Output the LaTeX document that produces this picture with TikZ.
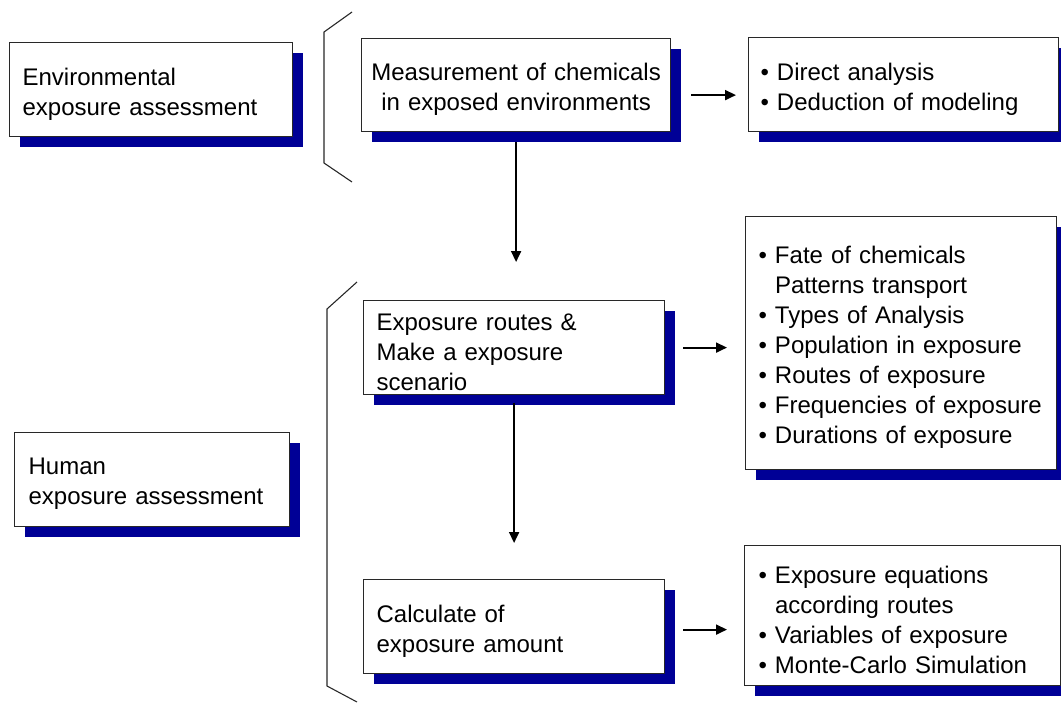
\documentclass[tikz,border=0pt]{standalone}
\usepackage{fontspec}
\setmainfont{Liberation Sans}
\usetikzlibrary{shadows,arrows.meta}
\definecolor{shadowblue}{RGB}{0,0,150}
\definecolor{edge}{RGB}{40,40,40}
\tikzset{
  box/.style={draw=edge, line width=1.2pt, fill=white, rectangle, anchor=north west, inner sep=0pt,
    drop shadow={shadow xshift=10pt, shadow yshift=-10pt, fill=shadowblue, opacity=1}},
  txt/.style={font=\fontsize{24}{30}\selectfont, align=left, inner sep=0pt},
  arr/.style={line width=1.8pt, -{Triangle[length=11pt,width=10pt]}},
  brk/.style={line width=1.1pt, draw=edge}
}
\begin{document}
\begin{tikzpicture}[x=1pt,y=-1pt]
\useasboundingbox (0,0) rectangle (1061,702);
% boxes
\node[box, minimum width=283pt, minimum height=94pt] (env) at (9,42) {};
\node[txt, text width=257pt] (envt) at ([yshift=-4.5pt]env.center) {Environmental\\exposure assessment};
\node[box, minimum width=309pt, minimum height=93pt] (meas) at (361,38) {};
\node[txt, text width=301pt, align=center] (meast) at ([yshift=-4.5pt]meas.center) {Measurement of chemicals\\in exposed environments};
\node[box, minimum width=310pt, minimum height=94pt] (direct) at (748,37) {};
\node[txt, text width=286pt] (directt) at ([yshift=-4.5pt]direct.center) {• Direct analysis\\• Deduction of modeling};
\node[box, minimum width=311pt, minimum height=253pt] (fate) at (745,216) {};
\node[txt, text width=285pt] (fatet) at ([yshift=-4.5pt]fate.center)
  {• Fate of chemicals\\\phantom{• }Patterns transport\\• Types of Analysis\\• Population in exposure\\• Routes of exposure\\• Frequencies of exposure\\• Durations of exposure};
\node[box, minimum width=301pt, minimum height=94pt] (routes) at (363,300) {};
\node[txt, text width=275pt] (routest) at ([yshift=-4.5pt]routes.center) {Exposure routes \&\\Make a exposure\\scenario};
\node[box, minimum width=301pt, minimum height=94pt] (calc) at (363,579) {};
\node[txt, text width=275pt] (calct) at ([yshift=-4.5pt]calc.center) {Calculate of\\exposure amount};
\node[box, minimum width=275pt, minimum height=94pt] (human) at (14,432) {};
\node[txt, text width=247pt] (humant) at ([yshift=-4.5pt]human.center) {Human\\exposure assessment};
\node[box, minimum width=316pt, minimum height=140pt] (eq) at (744,545) {};
\node[txt, text width=288pt] (eqt) at ([yshift=-4.5pt]eq.center)
  {• Exposure equations\\\phantom{• }according routes\\• Variables of exposure\\• Monte-Carlo Simulation};
% brackets
\draw[brk] (352,12) -- (324,32) -- (324,163) -- (352,182);
\draw[brk] (357,282) -- (327,309) -- (327,686) -- (357,702);
% arrows
\draw[arr, shorten <=20pt, shorten >=12pt] ([yshift=-10pt]meas.east) -- ([yshift=-10pt]meas.east -| direct.west);
\draw[arr, shorten <=10pt, shorten >=38pt] (meas.south) -- (meas.south |- routes.north);
\draw[arr, shorten <=18pt, shorten >=18pt] (routes.east) -- (routes.east -| fate.west);
\draw[arr, shorten <=8pt, shorten >=36pt] (routes.south) -- (routes.south |- calc.north);
\draw[arr, shorten <=18pt, shorten >=17pt] ([yshift=-3pt]calc.east) -- ([yshift=-3pt]calc.east -| eq.west);
\end{tikzpicture}
\end{document}
